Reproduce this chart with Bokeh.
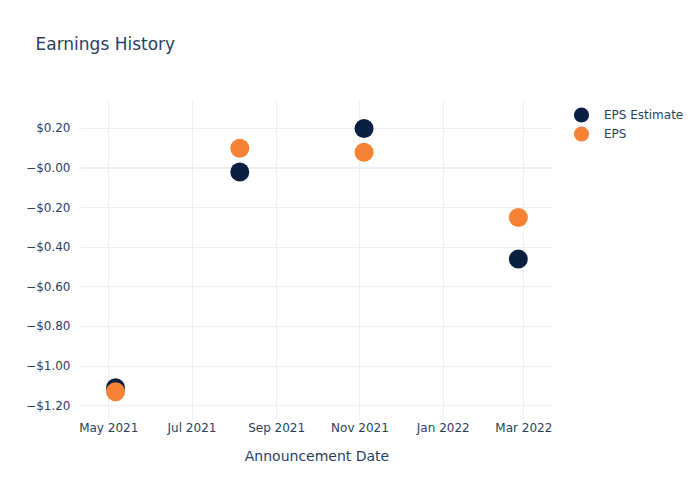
import pandas as pd
from bokeh.plotting import figure
from bokeh.models import (Range1d, FixedTicker, Legend, LegendItem, Span,
                          ColumnDataSource, Title)
from bokeh.embed import file_html
from bokeh.resources import INLINE

# ---- data ----
dates = ["2021-05-06", "2021-08-05", "2021-11-04", "2022-02-25"]
eps_estimate = [-1.11, -0.02, 0.20, -0.46]
eps_actual = [-1.13, 0.10, 0.08, -0.25]

y_ticks = [0.2, 0.0, -0.2, -0.4, -0.6, -0.8, -1.0, -1.2]
y_tick_labels = ["$0.20", "\u2212$0.00", "\u2212$0.20", "\u2212$0.40",
                 "\u2212$0.60", "\u2212$0.80", "\u2212$1.00", "\u2212$1.20"]
x_tick_dates = ["2021-05-01", "2021-07-01", "2021-09-01",
                "2021-11-01", "2022-01-01", "2022-03-01"]
x_tick_labels = ["May 2021", "Jul 2021", "Sep 2021",
                 "Nov 2021", "Jan 2022", "Mar 2022"]

TEXT = "#2a3f5f"
GRID = "#EBF0F8"
FONT = "DejaVu Sans"

def ms(d):
    return pd.Timestamp(d).value // 10**6

src = ColumnDataSource(dict(x=pd.to_datetime(dates), est=eps_estimate, eps=eps_actual))

p = figure(frame_width=473, frame_height=320, x_axis_type="datetime",
           output_backend="svg", toolbar_location=None,
           min_border_left=80, min_border_right=147,
           min_border_top=100, min_border_bottom=80,
           x_range=Range1d(pd.Timestamp("2021-04-10 08:00"), pd.Timestamp("2022-03-22 18:00")),
           y_range=Range1d(-1.275, 0.341))
p.outline_line_color = None
p.background_fill_color = "white"
p.border_fill_color = "white"

# spacer between title and frame
p.add_layout(Title(text=" ", text_font_size="12px", standoff=31), "above")
p.title.text = "Earnings History"
p.title.text_font = FONT
p.title.text_font_size = "17px"
p.title.text_font_style = "normal"
p.title.text_color = TEXT
p.title.align = "left"
p.title.offset = -45
p.title.standoff = 0

# grids
for g in (p.xgrid, p.ygrid):
    g.grid_line_color = GRID
    g.grid_line_width = 1
p.add_layout(Span(location=0, dimension="width", line_color=GRID,
                  line_width=2, level="underlay"))

# axes
x_ticks_ms = [ms(d) for d in x_tick_dates]
p.xaxis.ticker = FixedTicker(ticks=x_ticks_ms)
p.xaxis.major_label_overrides = {t: l for t, l in zip(x_ticks_ms, x_tick_labels)}
p.xgrid.ticker = FixedTicker(ticks=x_ticks_ms)
p.yaxis.ticker = FixedTicker(ticks=y_ticks)
p.yaxis.major_label_overrides = {t: l for t, l in zip(y_ticks, y_tick_labels)}
p.ygrid.ticker = FixedTicker(ticks=y_ticks)

for ax in (p.xaxis[0], p.yaxis[0]):
    ax.axis_line_color = None
    ax.major_tick_line_color = None
    ax.minor_tick_line_color = None
    ax.major_tick_out = 0
    ax.major_tick_in = 0
    ax.minor_tick_out = 0
    ax.major_label_text_font = FONT
    ax.major_label_text_font_size = "12px"
    ax.major_label_text_color = TEXT

p.xaxis.major_label_standoff = 0
p.yaxis.major_label_standoff = 10
p.xaxis.axis_label = "Announcement Date"
p.xaxis.axis_label_text_font = FONT
p.xaxis.axis_label_text_font_size = "14px"
p.xaxis.axis_label_text_font_style = "normal"
p.xaxis.axis_label_text_color = TEXT
p.xaxis.axis_label_standoff = 10

r_est = p.ellipse("x", "est", source=src, width=19, height=19,
                  width_units="screen", height_units="screen",
                  fill_color="#0B1F41", line_color=None)
r_eps = p.ellipse("x", "eps", source=src, width=19, height=19,
                  width_units="screen", height_units="screen",
                  fill_color="#F58235", line_color=None)

legend = Legend(items=[LegendItem(label="EPS Estimate", renderers=[r_est]),
                       LegendItem(label="EPS", renderers=[r_eps])],
                location="top_left", orientation="vertical",
                label_text_font=FONT, label_text_font_size="12px",
                label_text_color=TEXT, glyph_width=46, glyph_height=19,
                spacing=0, padding=4, margin=5, label_standoff=0,
                border_line_color=None, background_fill_alpha=0)
p.add_layout(legend, "right")

open("out.html", "w").write(file_html(p, INLINE))
